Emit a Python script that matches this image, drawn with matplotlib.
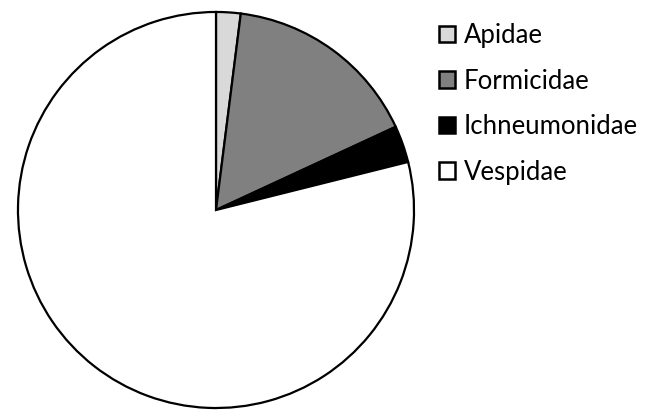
import matplotlib.pyplot as plt
from matplotlib.patches import Patch

# slice shares (percent), clockwise from top
families = ["Apidae", "Formicidae", "Ichneumonidae", "Vespidae"]
shares = [2.0, 16.1, 3.0, 78.9]
colors = ["#d9d9d9", "#808080", "#000000", "#ffffff"]

fig = plt.figure(figsize=(6.5, 4.12), dpi=100)
ax = fig.add_axes([16 / 650, 2 / 412, 400 / 650, 400 / 412])
ax.pie(shares, colors=colors, startangle=90, counterclock=False, radius=1,
       wedgeprops=dict(edgecolor="black", linewidth=1.6))
ax.set_xlim(-1.01, 1.01)
ax.set_ylim(-1.01, 1.01)
ax.set_aspect("equal")

handles = [Patch(facecolor=c, edgecolor="black", linewidth=1.8) for c in colors]
fig.legend(handles, families, loc="upper left", bbox_to_anchor=(439 / 650, 1 - 23 / 412),
           frameon=False, borderpad=0, borderaxespad=0,
           handlelength=0.62, handleheight=0.62, handletextpad=0.35, labelspacing=0.8,
           prop={"family": "Lato", "size": 18.5})

fig.savefig("out.png", dpi=100)
